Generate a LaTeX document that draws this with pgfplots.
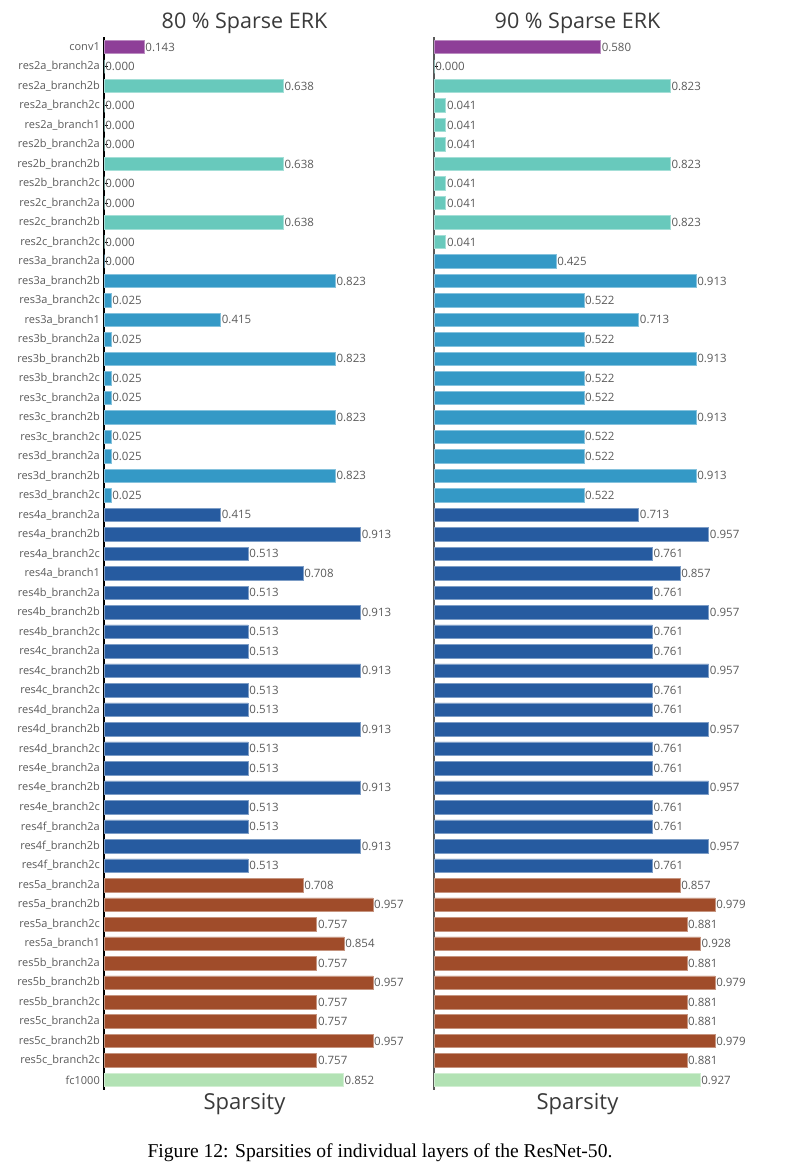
\documentclass[border=0pt]{standalone}
\usepackage{pgfplots}
\pgfplotsset{compat=1.18}
\usepackage{fontspec}
\setmainfont{Open Sans}
\newfontfamily\capfont{Liberation Serif}
\definecolor{cpurple}{HTML}{8E3F98}
\definecolor{cteal}{HTML}{68C9BC}
\definecolor{cblue}{HTML}{3499C6}
\definecolor{cdblue}{HTML}{265BA0}
\definecolor{cbrown}{HTML}{A04C2A}
\definecolor{cgreen}{HTML}{B2E2B4}
\definecolor{tgray}{HTML}{5A5A5A}
\definecolor{ttitle}{HTML}{3A3A3A}
\pgfplotsset{
  sparsebase/.style={
    scale only axis, height=1052.5pt,
    xmin=0, xmax=1, ymin=-0.5, ymax=53.5, y dir=reverse,
    anchor=south west,
    axis y line*=left, axis x line*=bottom,
    x axis line style={draw=none}, xtick=\empty,
    ytick={0,...,53}, tick align=inside, major tick length=4pt,
    ytick style={black, line width=0.8pt},
    y axis line style={line width=1.3pt},
    yticklabel style={font=\fontsize{11}{13}\selectfont, text=tgray, inner sep=1pt, xshift=-3pt},
    xlabel={Sparsity},
    xlabel style={at={(axis description cs:0.5,0)}, anchor=north, inner sep=0pt, yshift=-3pt, font=\fontsize{22}{26}\selectfont, text=ttitle},
    title style={at={(axis description cs:0.5,1)}, anchor=base, inner sep=0pt, yshift=3pt, font=\fontsize{21.5}{25}\selectfont, text=ttitle},
    nodes near coords, nodes near coords align={horizontal},
    every node near coord/.append style={font=\fontsize{11.5}{13}\selectfont, text=tgray, inner sep=1pt},
    /pgf/number format/fixed, /pgf/number format/fixed zerofill, /pgf/number format/precision=3,
    /pgf/number format/assume math mode=true,
    clip=false,
  },
  barst/.style={xbar, bar width=13.5pt, bar shift=0pt, point meta=x, fill=#1, draw=#1!60!white, line width=0.6pt},
}
\begin{document}
\begin{tikzpicture}
\useasboundingbox (0,0) rectangle (800pt,1165pt);
% ---------- left panel ----------
\begin{axis}[sparsebase, at={(104pt,75.25pt)}, width=281pt,
  title={80 \% Sparse ERK},
  yticklabels={conv1,res2a\_branch2a,res2a\_branch2b,res2a\_branch2c,res2a\_branch1,res2b\_branch2a,res2b\_branch2b,res2b\_branch2c,res2c\_branch2a,res2c\_branch2b,res2c\_branch2c,res3a\_branch2a,res3a\_branch2b,res3a\_branch2c,res3a\_branch1,res3b\_branch2a,res3b\_branch2b,res3b\_branch2c,res3c\_branch2a,res3c\_branch2b,res3c\_branch2c,res3d\_branch2a,res3d\_branch2b,res3d\_branch2c,res4a\_branch2a,res4a\_branch2b,res4a\_branch2c,res4a\_branch1,res4b\_branch2a,res4b\_branch2b,res4b\_branch2c,res4c\_branch2a,res4c\_branch2b,res4c\_branch2c,res4d\_branch2a,res4d\_branch2b,res4d\_branch2c,res4e\_branch2a,res4e\_branch2b,res4e\_branch2c,res4f\_branch2a,res4f\_branch2b,res4f\_branch2c,res5a\_branch2a,res5a\_branch2b,res5a\_branch2c,res5a\_branch1,res5b\_branch2a,res5b\_branch2b,res5b\_branch2c,res5c\_branch2a,res5c\_branch2b,res5c\_branch2c,fc1000},
]
\addplot[barst=cpurple] coordinates {(0.143,0)};
\addplot[barst=cteal] coordinates {(0,1) (0.638,2) (0,3) (0,4) (0,5) (0.638,6) (0,7) (0,8) (0.638,9) (0,10)};
\addplot[barst=cblue] coordinates {(0,11) (0.823,12) (0.025,13) (0.415,14) (0.025,15) (0.823,16) (0.025,17) (0.025,18) (0.823,19) (0.025,20) (0.025,21) (0.823,22) (0.025,23)};
\addplot[barst=cdblue] coordinates {(0.415,24) (0.913,25) (0.513,26) (0.708,27) (0.513,28) (0.913,29) (0.513,30) (0.513,31) (0.913,32) (0.513,33) (0.513,34) (0.913,35) (0.513,36) (0.513,37) (0.913,38) (0.513,39) (0.513,40) (0.913,41) (0.513,42)};
\addplot[barst=cbrown] coordinates {(0.708,43) (0.957,44) (0.757,45) (0.854,46) (0.757,47) (0.957,48) (0.757,49) (0.757,50) (0.957,51) (0.757,52)};
\addplot[barst=cgreen] coordinates {(0.852,53)};
\end{axis}
% ---------- right panel ----------
\begin{axis}[sparsebase, at={(434pt,75.25pt)}, width=287pt,
  title={90 \% Sparse ERK},
  yticklabels={},
  y axis line style={line width=1.3pt, draw=black!65},
]
\addplot[barst=cpurple] coordinates {(0.580,0)};
\addplot[barst=cteal] coordinates {(0,1) (0.823,2) (0.041,3) (0.041,4) (0.041,5) (0.823,6) (0.041,7) (0.041,8) (0.823,9) (0.041,10)};
\addplot[barst=cblue] coordinates {(0.425,11) (0.913,12) (0.522,13) (0.713,14) (0.522,15) (0.913,16) (0.522,17) (0.522,18) (0.913,19) (0.522,20) (0.522,21) (0.913,22) (0.522,23)};
\addplot[barst=cdblue] coordinates {(0.713,24) (0.957,25) (0.761,26) (0.857,27) (0.761,28) (0.957,29) (0.761,30) (0.761,31) (0.957,32) (0.761,33) (0.761,34) (0.957,35) (0.761,36) (0.761,37) (0.957,38) (0.761,39) (0.761,40) (0.957,41) (0.761,42)};
\addplot[barst=cbrown] coordinates {(0.857,43) (0.979,44) (0.881,45) (0.928,46) (0.881,47) (0.979,48) (0.881,49) (0.881,50) (0.979,51) (0.881,52)};
\addplot[barst=cgreen] coordinates {(0.927,53)};
\end{axis}
\node[font=\capfont\fontsize{19.6}{23}\selectfont, anchor=base, inner sep=0pt] at (380pt,7pt) {Figure 12: Sparsities of individual layers of the ResNet-50.};
\end{tikzpicture}
\end{document}
